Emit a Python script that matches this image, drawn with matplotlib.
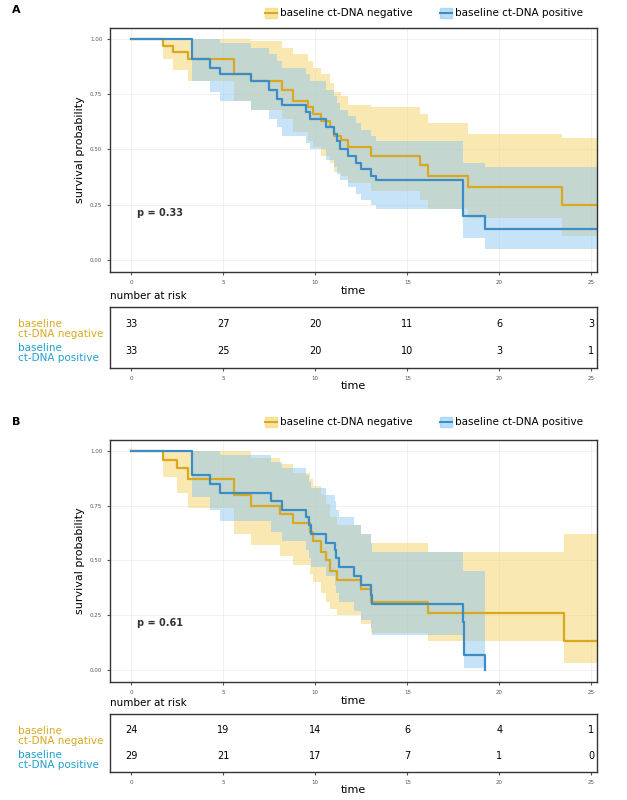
import numpy as np
import matplotlib.pyplot as plt

YEL = '#D9A81E'
BLU = '#3C8DC5'
YFILL = '#F5D365'
BFILL = '#8EC8F0'

# ---- panel A data ----
a_neg_t = [0, 1.75, 2.26, 3.1, 5.6, 6.5, 8.2, 8.8, 9.6, 9.9, 10.3, 10.8, 11.0, 11.4, 11.8, 13.0, 15.7, 16.1, 18.3, 23.4, 25.3]
a_neg_s = [1.0, 0.97, 0.94, 0.91, 0.84, 0.81, 0.77, 0.72, 0.69, 0.66, 0.63, 0.60, 0.56, 0.545, 0.51, 0.47, 0.43, 0.38, 0.33, 0.25, 0.25]
a_neg_lo = [1.0, 0.91, 0.86, 0.81, 0.72, 0.68, 0.64, 0.58, 0.54, 0.51, 0.47, 0.44, 0.40, 0.38, 0.35, 0.31, 0.27, 0.23, 0.19, 0.11, 0.11]
a_neg_hi = [1.0, 1.0, 1.0, 1.0, 1.0, 0.99, 0.96, 0.93, 0.90, 0.87, 0.84, 0.80, 0.76, 0.74, 0.70, 0.69, 0.66, 0.62, 0.57, 0.55, 0.55]
a_pos_t = [0, 3.3, 4.3, 4.8, 6.5, 7.5, 7.9, 8.2, 9.5, 9.7, 10.6, 11.0, 11.2, 11.35, 11.8, 12.2, 12.5, 13.0, 13.3, 18.0, 19.2, 25.3]
a_pos_s = [1.0, 0.91, 0.87, 0.84, 0.81, 0.77, 0.73, 0.70, 0.67, 0.64, 0.60, 0.57, 0.54, 0.50, 0.47, 0.44, 0.41, 0.38, 0.36, 0.20, 0.14, 0.14]
a_pos_lo = [1.0, 0.81, 0.76, 0.72, 0.68, 0.64, 0.60, 0.56, 0.53, 0.50, 0.45, 0.42, 0.39, 0.36, 0.33, 0.30, 0.27, 0.25, 0.23, 0.10, 0.05, 0.05]
a_pos_hi = [1.0, 1.0, 1.0, 0.98, 0.96, 0.93, 0.90, 0.87, 0.84, 0.81, 0.77, 0.74, 0.71, 0.68, 0.65, 0.62, 0.59, 0.56, 0.54, 0.44, 0.42, 0.42]

# ---- panel B data ----
b_neg_t = [0, 1.75, 2.5, 3.1, 5.6, 6.5, 8.1, 8.8, 9.7, 9.9, 10.3, 10.6, 10.8, 11.2, 12.5, 13.0, 16.1, 23.5, 25.3]
b_neg_s = [1.0, 0.96, 0.92, 0.87, 0.80, 0.75, 0.71, 0.67, 0.63, 0.59, 0.54, 0.50, 0.45, 0.41, 0.37, 0.31, 0.26, 0.13, 0.13]
b_neg_lo = [1.0, 0.88, 0.81, 0.74, 0.62, 0.57, 0.52, 0.48, 0.44, 0.40, 0.35, 0.31, 0.28, 0.25, 0.21, 0.17, 0.13, 0.03, 0.03]
b_neg_hi = [1.0, 1.0, 1.0, 1.0, 1.0, 0.97, 0.94, 0.90, 0.87, 0.84, 0.80, 0.76, 0.70, 0.66, 0.62, 0.58, 0.54, 0.62, 0.62]
b_pos_t = [0, 3.3, 4.3, 4.8, 7.6, 8.2, 9.5, 9.65, 9.75, 10.6, 11.05, 11.15, 11.3, 12.1, 12.5, 13.0, 13.1, 18.0, 18.05, 19.2]
b_pos_s = [1.0, 0.89, 0.85, 0.81, 0.77, 0.73, 0.70, 0.66, 0.62, 0.58, 0.55, 0.51, 0.47, 0.43, 0.39, 0.34, 0.30, 0.22, 0.07, 0.0]
b_pos_lo = [1.0, 0.79, 0.73, 0.68, 0.63, 0.59, 0.55, 0.51, 0.47, 0.43, 0.39, 0.35, 0.31, 0.27, 0.23, 0.19, 0.16, 0.08, 0.01, 0.0]
b_pos_hi = [1.0, 1.0, 1.0, 0.98, 0.95, 0.92, 0.89, 0.86, 0.83, 0.80, 0.77, 0.73, 0.70, 0.66, 0.62, 0.58, 0.54, 0.45, 0.45, 0.0]

risk_times = [0, 5, 10, 15, 20, 25]
a_risk_neg = [33, 27, 20, 11, 6, 3]
a_risk_pos = [33, 25, 20, 10, 3, 1]
b_risk_neg = [24, 19, 14, 6, 4, 1]
b_risk_pos = [29, 21, 17, 7, 1, 0]

W, H = 627, 800
fig = plt.figure(figsize=(6.27, 8), dpi=100)


def box(l, t, r, b):
    return [l / W, 1 - b / H, (r - l) / W, (b - t) / H]


def style(ax):
    ax.set_xlim(-1.15, 25.3)
    ax.set_xticks(risk_times)
    ax.tick_params(labelsize=4, colors='#555555', length=2)
    for s in ax.spines.values():
        s.set_color('#333333')
        s.set_linewidth(1.0)
    ax.grid(color='#ececec', linewidth=0.5)
    ax.set_axisbelow(True)


def km(ax, t, s, lo, hi, fill, col):
    ax.fill_between(t, lo, hi, step='post', color=fill, alpha=0.5, linewidth=0)
    ax.step(t, s, where='post', color=col, linewidth=1.6)


def main_panel(top, bot, curves, pval, letter, leg_y):
    ax = fig.add_axes(box(110, top, 597, bot))
    style(ax)
    for c in curves:
        km(ax, *c)
    ax.set_ylim(-0.055, 1.05)
    ax.set_yticks([0, 0.25, 0.5, 0.75, 1.0])
    ax.set_yticklabels(['0.00', '0.25', '0.50', '0.75', '1.00'])
    ax.set_ylabel('survival probability', fontsize=8)
    ax.set_xlabel('time', fontsize=8, labelpad=1)
    ax.text(0.3, 0.2, pval, fontsize=7, fontweight='bold', color='#333333')
    fig.text(12 / W, 1 - (top - 15) / H, letter, fontsize=8, fontweight='bold')
    for x, lab, fcol, lcol in [(265, 'baseline ct-DNA negative', YFILL, YEL),
                               (440, 'baseline ct-DNA positive', BFILL, BLU)]:
        fig.patches.append(plt.Rectangle((x / W, 1 - (leg_y + 5) / H), 12 / W, 10 / H,
                                         transform=fig.transFigure, color=fcol, alpha=0.6))
        fig.lines.append(plt.Line2D([x / W, (x + 12) / W], [1 - leg_y / H] * 2,
                                    transform=fig.transFigure, color=lcol, lw=1.5))
        fig.text((x + 15) / W, 1 - leg_y / H, lab, fontsize=7.5, va='center')


def risk_panel(top, bot, neg, pos):
    ax = fig.add_axes(box(110, top, 597, bot))
    style(ax)
    ax.set_ylim(0, 1)
    ax.set_yticks([])
    ax.grid(False)
    for x, n, p in zip(risk_times, neg, pos):
        ax.text(x, 0.72, str(n), ha='center', va='center', fontsize=7)
        ax.text(x, 0.28, str(p), ha='center', va='center', fontsize=7)
    ax.set_xlabel('time', fontsize=8, labelpad=0)
    fig.text(110 / W, 1 - (top - 8) / H, 'number at risk', fontsize=7.5)
    fig.text(18 / W, 1 - (top + 22) / H, 'baseline\nct-DNA negative', fontsize=7.5,
             color=YEL, va='center', linespacing=1.0)
    fig.text(18 / W, 1 - (top + 46) / H, 'baseline\nct-DNA positive', fontsize=7.5,
             color='#1FA0D0', va='center', linespacing=1.0)


main_panel(28, 272, [(a_neg_t, a_neg_s, a_neg_lo, a_neg_hi, YFILL, YEL),
                     (a_pos_t, a_pos_s, a_pos_lo, a_pos_hi, BFILL, BLU)], 'p = 0.33', 'A', 13)
risk_panel(307, 368, a_risk_neg, a_risk_pos)
main_panel(440, 682, [(b_neg_t, b_neg_s, b_neg_lo, b_neg_hi, YFILL, YEL),
                      (b_pos_t, b_pos_s, b_pos_lo, b_pos_hi, BFILL, BLU)], 'p = 0.61', 'B', 422)
risk_panel(714, 772, b_risk_neg, b_risk_pos)

fig.savefig('out.png', dpi=100)
